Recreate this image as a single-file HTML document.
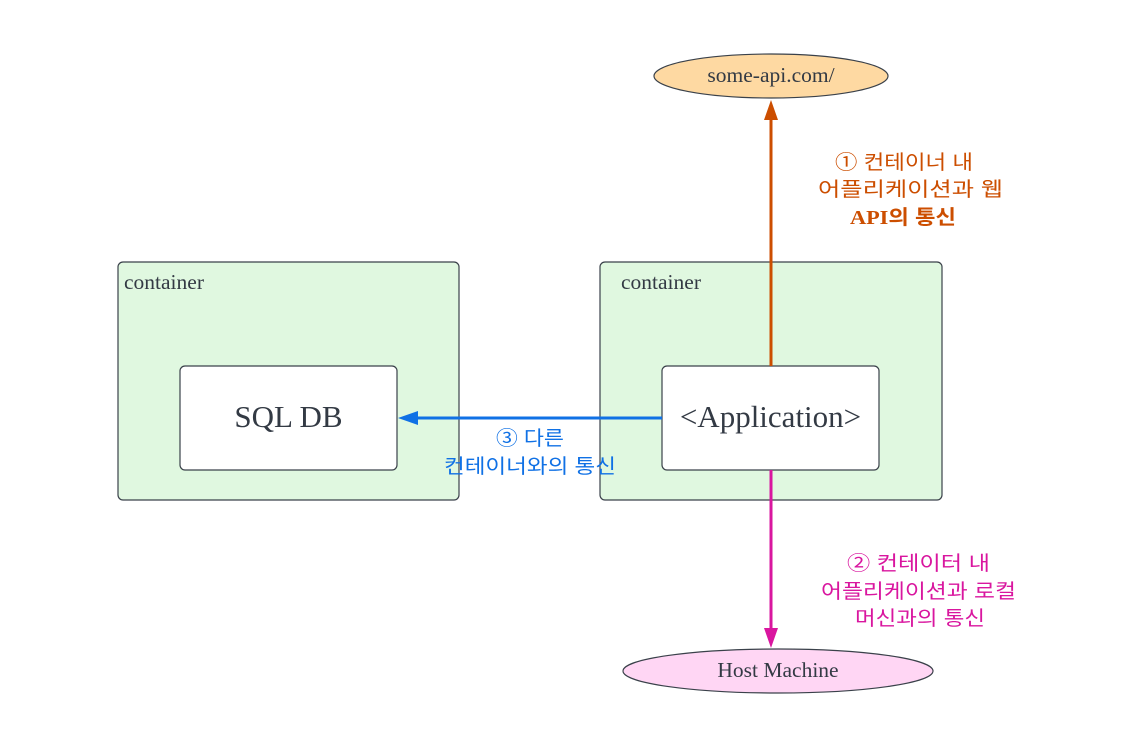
<!DOCTYPE html>
<html><head><meta charset="utf-8"><style>
html,body{margin:0;padding:0;background:#fff;}
svg{display:block;}
.s{font-family:"Liberation Serif","Noto Serif CJK SC",serif;fill:#333a44;}
.k{font-family:"Liberation Sans","Noto Sans CJK KR",sans-serif;font-size:20px;}
</style></head><body>
<svg width="1122" height="748" viewBox="0 0 1122 748" xmlns="http://www.w3.org/2000/svg">
<rect width="1122" height="748" fill="#fff"/>
<rect x="118" y="262" width="341" height="238" rx="5" fill="#e0f8e0" stroke="#3a414a" stroke-width="1.2"/>
<rect x="600" y="262" width="342" height="238" rx="5" fill="#e0f8e0" stroke="#3a414a" stroke-width="1.2"/>
<text x="124" y="289" class="s" font-size="21.5">container</text>
<text x="621" y="289" class="s" font-size="21.5">container</text>
<rect x="180" y="366" width="217" height="104" rx="5" fill="#fff" stroke="#3a414a" stroke-width="1.2"/>
<rect x="662" y="366" width="217" height="104" rx="5" fill="#fff" stroke="#3a414a" stroke-width="1.2"/>
<text x="288.5" y="427" class="s" font-size="31" text-anchor="middle">SQL DB</text>
<text x="770.5" y="427" class="s" font-size="31" text-anchor="middle">&lt;Application&gt;</text>
<ellipse cx="771" cy="76" rx="117" ry="22" fill="#fed9a2" stroke="#3a414a" stroke-width="1.2"/>
<text x="771" y="82" class="s" font-size="21.5" text-anchor="middle">some-api.com/</text>
<ellipse cx="778" cy="671" rx="155" ry="22" fill="#ffd6f4" stroke="#3a414a" stroke-width="1.2"/>
<text x="778" y="677" class="s" font-size="21.5" text-anchor="middle">Host Machine</text>
<line x1="771" y1="366" x2="771" y2="112" stroke="#cc4e00" stroke-width="3"/>
<polygon points="771,100 764,120 778,120" fill="#cc4e00"/>
<line x1="662" y1="418" x2="412" y2="418" stroke="#1071e5" stroke-width="3"/>
<polygon points="398,418 418,411 418,425" fill="#1071e5"/>
<line x1="771" y1="470" x2="771" y2="634" stroke="#d9169f" stroke-width="3"/>
<polygon points="771,648 764,628 778,628" fill="#d9169f"/>
<g class="k" fill="#cc4e00">
<text x="835" y="169" textLength="138" lengthAdjust="spacingAndGlyphs">① 컨테이너 내</text>
<text x="818" y="196" textLength="185" lengthAdjust="spacingAndGlyphs">어플리케이션과 웹</text>
<text x="850" y="224" textLength="106" lengthAdjust="spacingAndGlyphs" font-weight="bold"><tspan font-family="Liberation Serif,serif">API</tspan>의 통신</text>
</g>
<g class="k" fill="#1071e5">
<text x="496" y="445" textLength="68" lengthAdjust="spacingAndGlyphs">③ 다른</text>
<text x="444" y="473" textLength="172" lengthAdjust="spacingAndGlyphs">컨테이너와의 통신</text>
</g>
<g class="k" fill="#d9169f">
<text x="847" y="570" textLength="143" lengthAdjust="spacingAndGlyphs">② 컨테이터 내</text>
<text x="821" y="598" textLength="195" lengthAdjust="spacingAndGlyphs">어플리케이션과 로컬</text>
<text x="855" y="625" textLength="130" lengthAdjust="spacingAndGlyphs">머신과의 통신</text>
</g>
</svg>
</body></html>
